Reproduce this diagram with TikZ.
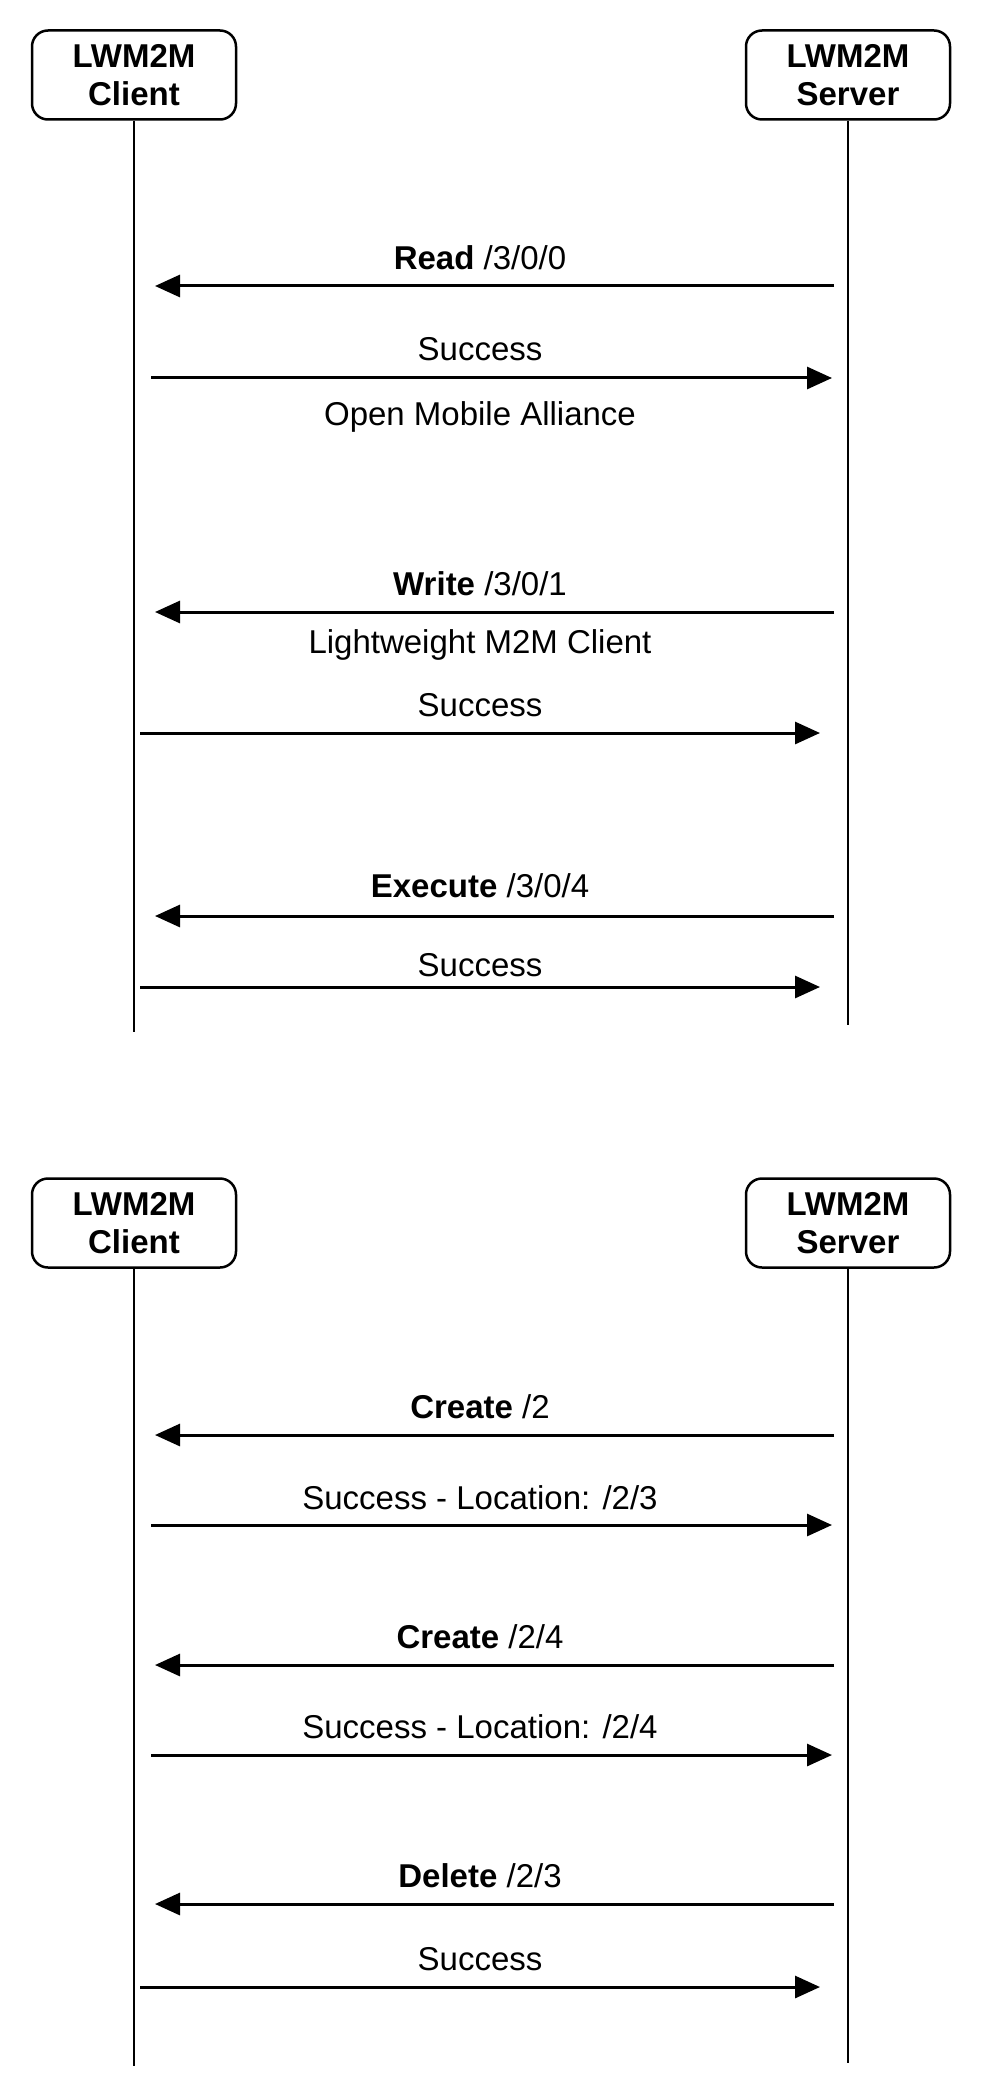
\documentclass[tikz,border=0pt]{standalone}
\usepackage{fontspec}
\setmainfont{Liberation Sans}
\usetikzlibrary{arrows.meta,positioning}

\begin{document}
\begin{tikzpicture}[x=0.5pt,y=-0.5pt,
  actor/.style={draw,line width=1.25pt,rounded corners=8pt,minimum width=102pt,minimum height=44.5pt,align=center,inner sep=0pt,font=\fontsize{16.5}{18.7}\selectfont\bfseries},
  life/.style={line width=1.3pt},
  msg/.style={line width=1.5pt,-{Triangle[length=12.5pt,width=11pt]}},
  lbl/.style={inner sep=0pt,font=\fontsize{16.5}{18.7}\selectfont}]
  \useasboundingbox (0,0) rectangle (980,2097);
  % first exchange
  \node[actor] (c1) at (134,75) {LWM2M\\Client};
  \node[actor] (s1) at (848,75) {LWM2M\\Server};
  \coordinate (c1end) at (134,1032);
  \coordinate (s1end) at (848,1025);
  \draw[life] (c1) -- (c1end);
  \draw[life] (s1) -- (s1end);
  \node[lbl] (read) at (480,258) {\textbf{Read} /3/0/0};
  \coordinate (read1) at (834,286);
  \coordinate (read2) at (155,286);
  \draw[msg] (read1) -- (read2);
  \node[lbl] (ok1) at (480,349) {Success};
  \coordinate (ok1a) at (151,378);
  \coordinate (ok1b) at (832,378);
  \draw[msg] (ok1a) -- (ok1b);
  \node[lbl] (oma) at (480,417) {Open Mobile Alliance};
  \node[lbl] (write) at (480,584) {\textbf{Write} /3/0/1};
  \coordinate (write1) at (834,612);
  \coordinate (write2) at (155,612);
  \draw[msg] (write1) -- (write2);
  \node[lbl] (lwc) at (480,645) {Lightweight M2M Client};
  \node[lbl] (ok2) at (480,705) {Success};
  \coordinate (ok2a) at (140,733);
  \coordinate (ok2b) at (820,733);
  \draw[msg] (ok2a) -- (ok2b);
  \node[lbl] (exec) at (480,886) {\textbf{Execute} /3/0/4};
  \coordinate (exec1) at (834,916);
  \coordinate (exec2) at (155,916);
  \draw[msg] (exec1) -- (exec2);
  \node[lbl] (ok3) at (480,965) {Success};
  \coordinate (ok3a) at (140,987);
  \coordinate (ok3b) at (820,987);
  \draw[msg] (ok3a) -- (ok3b);
  % second exchange
  \node[actor] (c2) at (134,1223) {LWM2M\\Client};
  \node[actor] (s2) at (848,1223) {LWM2M\\Server};
  \coordinate (c2end) at (134,2066);
  \coordinate (s2end) at (848,2063);
  \draw[life] (c2) -- (c2end);
  \draw[life] (s2) -- (s2end);
  \node[lbl] (cr1) at (480,1407) {\textbf{Create} /2};
  \coordinate (cr1a) at (834,1435);
  \coordinate (cr1b) at (155,1435);
  \draw[msg] (cr1a) -- (cr1b);
  \node[lbl] (loc1) at (480,1498) {Success - Location: /2/3};
  \coordinate (loc1a) at (151,1525);
  \coordinate (loc1b) at (832,1525);
  \draw[msg] (loc1a) -- (loc1b);
  \node[lbl] (cr2) at (480,1637) {\textbf{Create} /2/4};
  \coordinate (cr2a) at (834,1665);
  \coordinate (cr2b) at (155,1665);
  \draw[msg] (cr2a) -- (cr2b);
  \node[lbl] (loc2) at (480,1727) {Success - Location: /2/4};
  \coordinate (loc2a) at (151,1755);
  \coordinate (loc2b) at (832,1755);
  \draw[msg] (loc2a) -- (loc2b);
  \node[lbl] (del) at (480,1876) {\textbf{Delete} /2/3};
  \coordinate (del1) at (834,1904);
  \coordinate (del2) at (155,1904);
  \draw[msg] (del1) -- (del2);
  \node[lbl] (ok4) at (480,1959) {Success};
  \coordinate (ok4a) at (140,1987);
  \coordinate (ok4b) at (820,1987);
  \draw[msg] (ok4a) -- (ok4b);
\end{tikzpicture}
\end{document}
